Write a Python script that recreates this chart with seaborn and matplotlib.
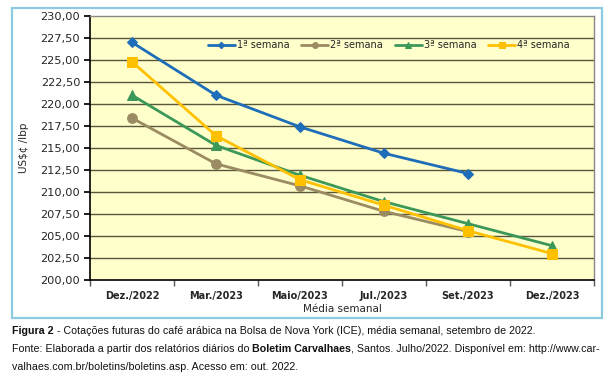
import matplotlib
matplotlib.use("Agg")
import matplotlib.pyplot as plt
import seaborn as sns
import pandas as pd
import numpy as np
from matplotlib.patches import Rectangle

categories = ["Dez./2022", "Mar./2023", "Maio/2023", "Jul./2023", "Set./2023", "Dez./2023"]
semana1 = [227.0, 221.0, 217.4, 214.4, 212.1, np.nan]
semana2 = [218.4, 213.2, 210.7, 207.8, 205.5, np.nan]
semana3 = [221.0, 215.3, 211.9, 208.9, 206.4, 203.9]
semana4 = [224.8, 216.4, 211.4, 208.5, 205.6, 203.0]
series_names = ["1ª semana", "2ª semana", "3ª semana", "4ª semana"]
yticks = [200, 202.5, 205, 207.5, 210, 212.5, 215, 217.5, 220, 222.5, 225, 227.5, 230]

rows = []
for name, vals in zip(series_names, [semana1, semana2, semana3, semana4]):
    for c, v in zip(categories, vals):
        rows.append({"mes": c, "valor": v, "serie": name})
df = pd.DataFrame(rows).dropna()

sns.set_theme(style="white")
plt.rcParams["font.family"] = ["DejaVu Sans"]

colors = {"1ª semana": "#1E6DB8", "2ª semana": "#9A8B62",
          "3ª semana": "#3B9859", "4ª semana": "#FFC000"}
markers = {"1ª semana": "D", "2ª semana": "o", "3ª semana": "^", "4ª semana": "s"}
sizes_m = {"1ª semana": 5.5, "2ª semana": 7, "3ª semana": 7, "4ª semana": 7}

fig = plt.figure(figsize=(6.16, 3.87), dpi=100)
fig.patch.set_facecolor("white")
W, H = 616, 387
ax = fig.add_axes([90 / W, 1 - 280 / H, 504 / W, 264 / H])
ax.set_facecolor("#FFFFCC")

# outer blue border
fig.patches.append(Rectangle((12 / W, 1 - 318 / H), 590 / W, 310 / H,
                             transform=fig.transFigure, fill=False,
                             edgecolor="#8CCBE0", linewidth=1.6, zorder=0))

for yt in yticks[1:-1]:
    ax.axhline(yt, color="#5A563A", linewidth=1.0, zorder=1)

order_x = {c: i for i, c in enumerate(categories)}
df["x"] = df["mes"].map(order_x)
for name in series_names:
    sub = df[df["serie"] == name]
    sns.lineplot(data=sub, x="x", y="valor", ax=ax, color=colors[name],
                 marker=markers[name], markersize=sizes_m[name],
                 markeredgecolor=colors[name], linewidth=2.0, label=name,
                 zorder=3, sort=False)

ax.set_xlim(-0.5, len(categories) - 0.5)
ax.set_ylim(200, 230)
ax.set_yticks(yticks)
ax.set_yticklabels([f"{v:.2f}".replace(".", ",") for v in yticks], fontsize=8.2)
ax.set_xticks(range(len(categories)))
ax.set_xticklabels(categories, fontsize=7, fontweight="bold")
ax.set_xticks(np.arange(-0.5, len(categories), 1), minor=True)
ax.tick_params(axis="x", which="major", length=0, pad=8)
ax.tick_params(axis="x", which="minor", length=4, color="#555555", direction="out", bottom=True)
ax.tick_params(axis="y", length=4, direction="out", left=True, color="black", pad=3)

for s in ["left", "bottom"]:
    ax.spines[s].set_color("black")
    ax.spines[s].set_linewidth(1.2)
for s in ["top", "right"]:
    ax.spines[s].set_color("#888888")
    ax.spines[s].set_linewidth(1.0)

ax.set_xlabel("Média semanal", fontsize=7.5, labelpad=2)
ax.set_ylabel("US$¢ /lbp", fontsize=7.5, labelpad=8)

leg = ax.legend(loc="center", bbox_to_anchor=(0.593, 0.89), ncol=4, frameon=False,
                fontsize=7, handlelength=2.8, handletextpad=0.2, columnspacing=1.2,
                markerscale=0.6)

# caption
fig.canvas.draw()
r = fig.canvas.get_renderer()
cap_font = ["Liberation Sans", "DejaVu Sans"]

line1 = [("Figura 2", "bold"),
         (" - Cotações futuras do café arábica na Bolsa de Nova York (ICE), média semanal, setembro de 2022.", "normal")]
line2 = [("Fonte: Elaborada a partir dos relatórios diários do ", "normal"),
         ("Boletim Carvalhaes", "bold"),
         (", Santos. Julho/2022. Disponível em: http://www.car-", "normal")]
line3 = [("valhaes.com.br/boletins/boletins.asp. Acesso em: out. 2022.", "normal")]


def measure(parts, fs):
    total = 0
    for txt, wt in parts:
        t = fig.text(0, 0, txt, fontsize=fs, fontweight=wt, family=cap_font)
        total += t.get_window_extent(r).width
        t.remove()
    return total


fs = 8.0
w = measure(line2, fs)
fs = fs * 589.0 / w


def draw_line(parts, ypix):
    x = 12.0
    for txt, wt in parts:
        t = fig.text(x / W, 1 - ypix / H, txt, fontsize=fs, fontweight=wt,
                     family=cap_font, va="center", ha="left", color="#111111")
        x = t.get_window_extent(r).x1


draw_line(line1, 331)
draw_line(line2, 349)
draw_line(line3, 367)

fig.savefig("out.png", dpi=100)
